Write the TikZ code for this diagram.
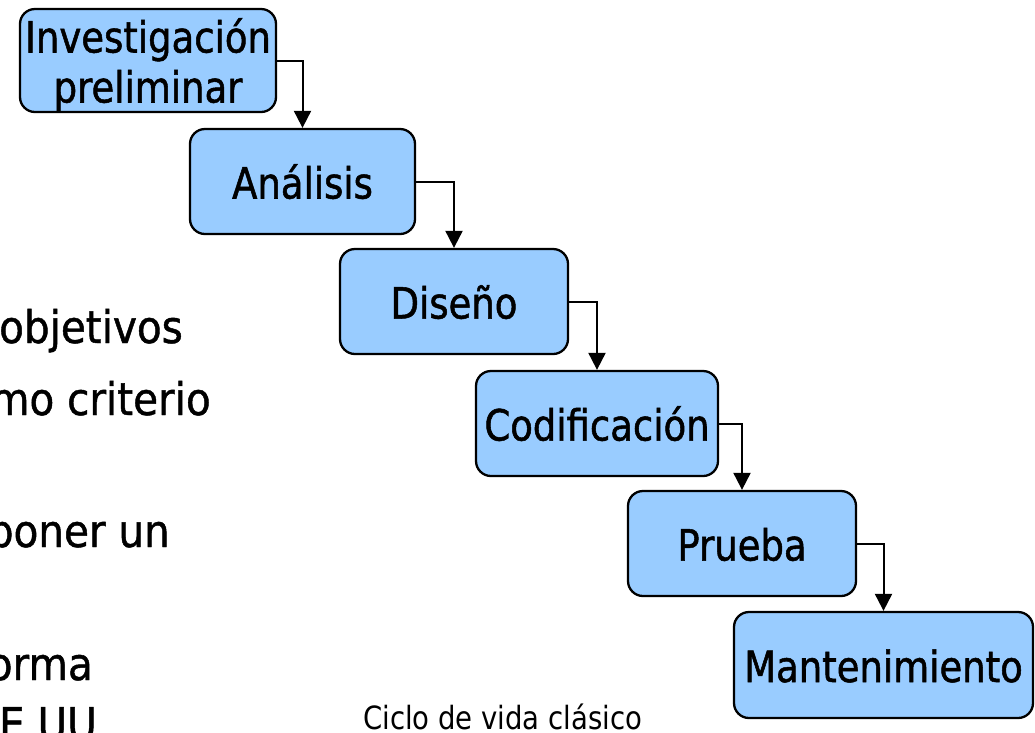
\documentclass[tikz,border=0pt]{standalone}
\usepackage{fontspec}
\setmainfont{DejaVu Sans}[FakeStretch=0.86]
\newfontfamily\boxfont{DejaVu Sans}[FakeStretch=0.86,FakeBold=1.2]
\newfontfamily\sidefont{DejaVu Sans}[FakeStretch=0.9,FakeBold=1]
\usetikzlibrary{arrows.meta}
\definecolor{boxblue}{HTML}{99CCFF}
\begin{document}
\begin{tikzpicture}[x=1pt,y=-1pt,
  stage/.style={draw=black, line width=2.3pt, fill=boxblue, rounded corners=15pt,
    inner sep=0pt, font=\boxfont\fontsize{43}{50}\selectfont, text height=34pt, text depth=0pt, align=center},
  flow/.style={line width=2pt, -{Triangle[width=17pt,length=17pt]}},
  bgtext/.style={anchor=base east, font=\sidefont\fontsize{45}{52}\selectfont, inner sep=0pt},
  caption/.style={anchor=base west, font=\fontsize{32}{38}\selectfont, inner sep=0pt}]
\useasboundingbox (0,0) rectangle (1035,732);
\clip (0,0) rectangle (1035,732);
% partially hidden slide text on the left
\node[bgtext] (t1) at (183,343) {objetivos};
\node[bgtext] (t2) at (211,415) {mo criterio};
\node[bgtext] (t3) at (170,547) {poner un};
\node[bgtext] (t4) at (93,680) {orma};
\node[bgtext] (t5) at (97,740) {EE.UU};
% stages
\node[stage, minimum width=256pt, minimum height=103pt, text height=84pt, text depth=0pt] (inv) at (148,60.5) {Investigación\\preliminar};
\node[stage, minimum width=225pt, minimum height=105pt] (ana) at (302.5,181.5) {Análisis};
\node[stage, minimum width=228pt, minimum height=105pt] (dis) at (454,301.5) {Diseño};
\node[stage, minimum width=242pt, minimum height=105pt] (cod) at (597,423.5) {Codificación};
\node[stage, minimum width=228pt, minimum height=105pt] (pru) at (742,543.5) {Prueba};
\node[stage, minimum width=299pt, minimum height=106pt] (man) at (883.5,665) {Mantenimiento};
% connectors
\draw[flow] (inv.east) -| (ana.north);
\draw[flow] (ana.east) -| (dis.north);
\draw[flow] (dis.east) -| (cod.north);
\draw[flow] (cod.east) -| (pru.north);
\draw[flow] (pru.east) -| (man.north);
% caption
\node[caption] (cap) at (363,729) {Ciclo de vida clásico};
\end{tikzpicture}
\end{document}
